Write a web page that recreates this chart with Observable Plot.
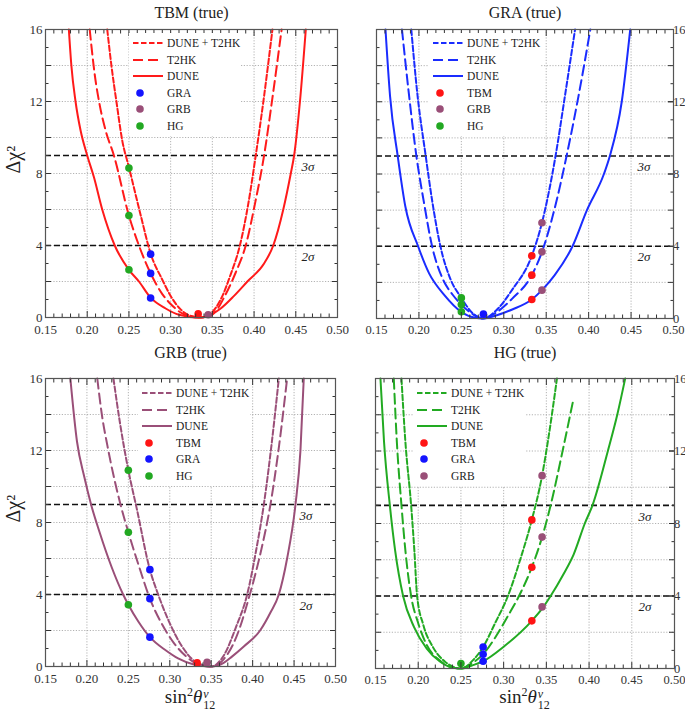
<!DOCTYPE html>
<html><head><meta charset="utf-8">
<script src="https://cdn.jsdelivr.net/npm/d3@7"></script>
<script src="https://cdn.jsdelivr.net/npm/@observablehq/plot@0.6"></script>
<style>
body{margin:0;background:#fff;}
#wrap{position:relative;width:685px;height:721px;overflow:hidden;font-family:"Liberation Serif","Times New Roman",Times,"DejaVu Serif",serif;color:#222;}
.panel{position:absolute;}
.panel svg{overflow:visible;}
.panel svg text{font-family:"Liberation Serif","Times New Roman",Times,"DejaVu Serif",serif !important;}
.legend{position:absolute;background:#fff;font-size:11.5px;}
.legend .row{position:absolute;left:0;white-space:nowrap;height:14px;line-height:14px;}
.legend .row svg{position:absolute;left:0;top:0;}
.legend .row span{position:absolute;top:0;}
.xlabel{position:absolute;font-size:19px;white-space:nowrap;transform:translateX(-50%);line-height:1;}
.xlabel sup.p{font-size:12px;vertical-align:7px;}
.ss{display:inline-block;vertical-align:-6px;line-height:11px;font-size:12px;margin-left:1px;}
.ss span{display:block;}
</style></head>
<body><div id="wrap"></div>
<script>
// ---------- data ----------
const xTickValues = [0.15,0.20,0.25,0.30,0.35,0.40,0.45,0.50];
const yLabelValues = [0,4,8,12,16];
const yGridValues = [0,2,4,6,8,10,12,14,16];
const models = ["TBM","GRA","GRB","HG"];
const modelSin2 = [0.333,0.276,0.345,0.25];
const modelColors = ["#ff1414","#1414ff","#9a4f78","#22a822"];
const experiments = ["DUNE + T2HK","T2HK","DUNE"];
const sigmaValues = [4,9];
const sigmaLabels = ["2σ","3σ"];
const panelTitles = ["TBM (true)","GRA (true)","GRB (true)","HG (true)"];
const curveColors = ["#ff1a1a","#1a2cff","#9a4f78","#22aa22"];

// TBM (true)
const tbmDuneT2hk = [[0.224,16],[0.229,14],[0.235,12],[0.242,9.83],[0.25,8.35],[0.264,5.7],[0.276,3.55],[0.29,2.1],[0.30,1.2],[0.312,0.45],[0.325,0.08],[0.338,0],[0.35,0.3],[0.36,1.0],[0.372,2.4],[0.383,4],[0.393,6.3],[0.402,9],[0.412,12.3],[0.422,16]];
const tbmT2hk = [[0.203,16],[0.209,13.5],[0.215,11.8],[0.222,10.4],[0.232,9],[0.25,5.66],[0.262,4],[0.276,2.45],[0.29,1.3],[0.30,0.75],[0.315,0.2],[0.333,0],[0.345,0.05],[0.355,0.4],[0.365,1.2],[0.378,2.5],[0.39,4],[0.401,6.3],[0.412,9],[0.422,12.2],[0.433,16]];
const tbmDune = [[0.178,16],[0.181,14],[0.186,12],[0.192,10.4],[0.200,9],[0.208,7.8],[0.218,6],[0.233,4],[0.25,2.65],[0.262,2],[0.276,1.1],[0.294,0.5],[0.31,0.15],[0.333,0],[0.35,0.2],[0.36,0.5],[0.376,1.2],[0.392,2],[0.412,3],[0.423,4],[0.435,6],[0.444,8],[0.448,9],[0.455,12],[0.462,16]];
const tbmTestModels = ["GRA","GRA","GRA","HG","HG","HG","TBM","GRB"];
const tbmTestChi2 = [3.52,2.45,1.08,8.3,5.66,2.65,0.2,0.15];

// GRA (true)
const graDuneT2hk = [[0.191,16],[0.198,12.5],[0.208,9],[0.216,6.4],[0.2253,4],[0.237,2.2],[0.25,1.14],[0.262,0.35],[0.276,0],[0.29,0.4],[0.31,1.6],[0.333,3.47],[0.345,5.3],[0.361,9],[0.372,12.3],[0.384,16]];
const graT2hk = [[0.18,16],[0.188,12.5],[0.197,9],[0.206,6.4],[0.2155,4],[0.228,2.2],[0.24,1.3],[0.25,0.77],[0.263,0.25],[0.276,0],[0.29,0.3],[0.31,1.1],[0.333,2.4],[0.345,3.69],[0.36,6.1],[0.374,9],[0.388,12.3],[0.402,16]];
const graDune = [[0.1606,16],[0.166,12.3],[0.175,9],[0.184,6.2],[0.199,4],[0.212,2.5],[0.23,1.3],[0.25,0.37],[0.265,0.05],[0.276,0],[0.29,0.15],[0.31,0.5],[0.333,1.05],[0.345,1.57],[0.36,2.4],[0.381,4],[0.398,6],[0.418,8],[0.425,9],[0.439,12],[0.449,16]];
const graTestModels = ["TBM","TBM","TBM","GRB","GRB","GRB","HG","HG","HG","GRA"];
const graTestChi2 = [3.47,2.4,1.05,5.3,3.69,1.57,1.14,0.77,0.37,0.24];

// GRB (true)
const grbDuneT2hk = [[0.232,16],[0.24,13.5],[0.25,10.9],[0.26,8.8],[0.276,5.38],[0.286,4],[0.30,2.4],[0.315,1.1],[0.33,0.3],[0.35,0],[0.365,0.6],[0.38,2.2],[0.3934,4],[0.404,6.4],[0.4135,9],[0.423,12.4],[0.4316,16]];
const grbT2hk = [[0.2125,16],[0.218,14],[0.225,12.2],[0.2405,9],[0.25,7.46],[0.264,5.4],[0.276,3.77],[0.29,2.4],[0.305,1.3],[0.32,0.55],[0.335,0.1],[0.35,0],[0.365,0.4],[0.38,1.6],[0.3966,4],[0.41,6.4],[0.4215,9],[0.432,12.3],[0.4416,16]];
const grbDune = [[0.18,16],[0.188,12.5],[0.197,10.5],[0.205,9],[0.215,7.5],[0.23,5.5],[0.2437,4],[0.25,3.43],[0.262,2.5],[0.276,1.63],[0.295,0.9],[0.31,0.45],[0.33,0.1],[0.35,0],[0.365,0.2],[0.375,0.55],[0.389,1.1],[0.409,2],[0.4215,3],[0.4316,4],[0.4416,6],[0.4517,9],[0.4577,12],[0.4617,16]];
const grbTestModels = ["HG","HG","HG","GRA","GRA","GRA","TBM","GRB"];
const grbTestChi2 = [10.9,7.46,3.43,5.38,3.77,1.63,0.2,0.24];

// HG (true)
const hgDuneT2hk = [[0.1804,16],[0.185,12.5],[0.1917,9],[0.1955,6.5],[0.1987,4],[0.206,2.4],[0.217,1.2],[0.232,0.35],[0.25,0],[0.265,0.5],[0.276,1.19],[0.29,2.5],[0.305,4],[0.32,6.1],[0.333,8.2],[0.345,10.64],[0.353,12.9],[0.3624,16]];
const hgT2hk = [[0.1714,16],[0.175,12.5],[0.1804,9],[0.185,6.5],[0.1917,4],[0.2,2.5],[0.21,1.3],[0.225,0.45],[0.24,0.05],[0.25,0],[0.265,0.35],[0.276,0.79],[0.29,1.7],[0.305,2.9],[0.318,4],[0.333,5.59],[0.345,7.25],[0.355,9],[0.369,12],[0.381,14.7]];
const hgDune = [[0.1558,16],[0.16,12.5],[0.1668,9],[0.173,6.5],[0.1823,4],[0.195,2.3],[0.21,1.1],[0.225,0.4],[0.24,0.05],[0.25,0],[0.265,0.2],[0.276,0.4],[0.30,1.2],[0.333,2.63],[0.345,3.3],[0.355,4],[0.37,5.2],[0.382,6.3],[0.395,8],[0.404,9],[0.422,12],[0.433,14],[0.4423,16]];
const hgTestModels = ["TBM","TBM","TBM","GRB","GRB","GRB","GRA","GRA","GRA","HG"];
const hgTestChi2 = [8.2,5.59,2.63,10.64,7.25,3.4,1.19,0.79,0.4,0.28];

const legendModels = [["GRA","GRB","HG"],["TBM","GRB","HG"],["TBM","GRA","HG"],["TBM","GRA","GRB"]];

// ---------- layout ----------
const SERIF = "Liberation Serif, Times New Roman, Times, DejaVu Serif, serif";
const dashes = ["5.5,2.5","10,5",null];
const layouts = [
  {left:0,top:0,width:342,height:340,m:[29,5,23,45],yAnchor:"left",legend:[133,43],titleDy:-17,xlabel:false},
  {left:340,top:0,width:345,height:340,m:[29,12,22,36],yAnchor:"right",legend:[93,43],titleDy:-17,xlabel:false},
  {left:0,top:340,width:342,height:381,m:[38,7,55,45],yAnchor:"left",legend:[142,53],titleDy:-26,xlabel:true},
  {left:340,top:340,width:345,height:381,m:[38,11,53,35],yAnchor:"right",legend:[77,53],titleDy:-26,xlabel:true}
];
const panelCurves = [[tbmDuneT2hk,tbmT2hk,tbmDune],[graDuneT2hk,graT2hk,graDune],[grbDuneT2hk,grbT2hk,grbDune],[hgDuneT2hk,hgT2hk,hgDune]];
const panelTestModels = [tbmTestModels,graTestModels,grbTestModels,hgTestModels];
const panelTestChi2 = [tbmTestChi2,graTestChi2,grbTestChi2,hgTestChi2];

const xMinor = d3.range(15,51).map(d=>d/100).filter(d=>Math.round(d*100)%5!==0);
const yMinor = d3.range(1,16,2);
const colorOf = m => modelColors[models.indexOf(m)];
const sinOf = m => modelSin2[models.indexOf(m)];
const sigmaData = sigmaValues.map((v,i)=>({value:v,label:sigmaLabels[i]}));

const wrap = document.getElementById("wrap");

layouts.forEach((L,pi)=>{
  const [mt,mr,mb,ml] = L.m;
  const col = curveColors[pi];
  const lines = panelCurves[pi].flatMap((c,ci)=>c.map(([x,y])=>({x,y,exp:experiments[ci]})));
  const dots = panelTestModels[pi].map((m,i)=>({x:sinOf(m),y:panelTestChi2[pi][i],m}));
  const other = L.yAnchor==="left" ? "right" : "left";
  const tickFmt = d=>d.toFixed(2);
  const right = L.yAnchor==="right";
  const marks = [
    Plot.gridX(xTickValues,{stroke:"#a0a0a0",strokeOpacity:1,strokeDasharray:"1.2,1.6",strokeWidth:0.8}),
    Plot.gridY(yGridValues,{stroke:"#a0a0a0",strokeOpacity:1,strokeDasharray:"1.2,1.6",strokeWidth:0.8}),
    Plot.ruleY(sigmaData,{y:"value",stroke:"#111",strokeWidth:1.6,strokeDasharray:"6,3"}),
    Plot.text(sigmaData,{y:"value",text:"label",frameAnchor:"right",textAnchor:"end",lineAnchor:"middle",dx:-23,dy:11,fontSize:13,fontStyle:"italic",fill:"#222",fontFamily:SERIF}),
    ...experiments.map((e,ci)=>Plot.line(lines.filter(d=>d.exp===e),{x:"x",y:"y",stroke:col,strokeWidth:2,strokeDasharray:dashes[ci],curve:"monotone-x"})),
    Plot.dot(dots,{x:"x",y:"y",r:3.8,fill:d=>colorOf(d.m),stroke:"none"}),
    Plot.axisX(xTickValues,{anchor:"bottom",tickSize:-6,tickPadding:13,tickFormat:tickFmt,fontSize:right?12.5:13,color:"#333",fontFamily:SERIF}),
    Plot.axisX(xMinor,{anchor:"bottom",tickSize:-3.5,tickFormat:()=>"",color:"#333"}),
    Plot.axisX(xTickValues,{anchor:"top",tickSize:-6,tickFormat:()=>"",color:"#333",label:null}),
    Plot.axisX(xMinor,{anchor:"top",tickSize:-3.5,tickFormat:()=>"",color:"#333",label:null}),
    Plot.axisY(yLabelValues,{anchor:L.yAnchor,tickSize:-6,tickPadding:right?5.5:9,fontSize:right?12.5:13,color:"#333",label:null,fontFamily:SERIF}),
    Plot.axisY(yGridValues,{anchor:L.yAnchor,tickSize:-6,tickFormat:()=>"",color:"#333",label:null}),
    Plot.axisY(yMinor,{anchor:L.yAnchor,tickSize:-3.5,tickFormat:()=>"",color:"#333",label:null}),
    Plot.axisY(yGridValues,{anchor:other,tickSize:-6,tickFormat:()=>"",color:"#333",label:null}),
    Plot.axisY(yMinor,{anchor:other,tickSize:-3.5,tickFormat:()=>"",color:"#333",label:null}),
    Plot.frame({stroke:"#555",strokeWidth:1.2}),
    Plot.text([panelTitles[pi]],{text:d=>d,frameAnchor:"top",lineAnchor:"middle",dy:L.titleDy,fontSize:16,fill:"#222",fontFamily:SERIF})
  ];
  if (!right) marks.push(Plot.text(["Δχ²"],{text:d=>d,frameAnchor:"left",lineAnchor:"middle",dx:-32,rotate:-90,fontSize:20,fill:"#222",fontFamily:SERIF}));
  const chart = Plot.plot({
    width:L.width,height:L.height,
    marginTop:mt,marginRight:mr,marginBottom:mb,marginLeft:ml,
    x:{domain:[0.15,0.50],label:null},
    y:{domain:[0,16],label:null},
    style:{fontFamily:SERIF,fontSize:"13px",background:"transparent",color:"#222"},
    marks
  });
  const div = document.createElement("div");
  div.className="panel";
  div.style.left=L.left+"px"; div.style.top=L.top+"px";
  div.style.width=L.width+"px"; div.style.height=L.height+"px";
  div.appendChild(chart);
  // legend
  const lg = document.createElement("div");
  lg.className="legend";
  const lx = L.legend[0]-4, ly = L.legend[1]-10;
  lg.style.left=lx+"px"; lg.style.top=ly+"px";
  lg.style.width="112px"; lg.style.height="103px";
  const step = 16.6;
  let html = "";
  experiments.forEach((e,ci)=>{
    html += `<div class="row" style="top:${3+ci*step}px;width:112px"><svg width="36" height="14" style="left:4px"><line x1="0" x2="30" y1="7" y2="7" stroke="${col}" stroke-width="2" ${dashes[ci]?`stroke-dasharray="${dashes[ci]}"`:""}/></svg><span style="left:38px">${e}</span></div>`;
  });
  legendModels[pi].forEach((m,k)=>{
    const ri = 3+k;
    html += `<div class="row" style="top:${3+ri*step}px;width:112px"><svg width="36" height="14" style="left:4px"><circle cx="7" cy="7" r="3.8" fill="${colorOf(m)}"/></svg><span style="left:38px">${m}</span></div>`;
  });
  lg.innerHTML = html;
  div.appendChild(lg);
  if (L.xlabel) {
    const xl = document.createElement("div");
    xl.className="xlabel";
    xl.style.left = (ml + (L.width-ml-mr)/2) + "px";
    xl.style.top = (L.height - 35) + "px";
    xl.innerHTML = `sin<sup class="p">2</sup><i>θ</i><span class="ss"><span><i>ν</i></span><span>12</span></span>`;
    div.appendChild(xl);
  }
  wrap.appendChild(div);
});
</script>
</body></html>
